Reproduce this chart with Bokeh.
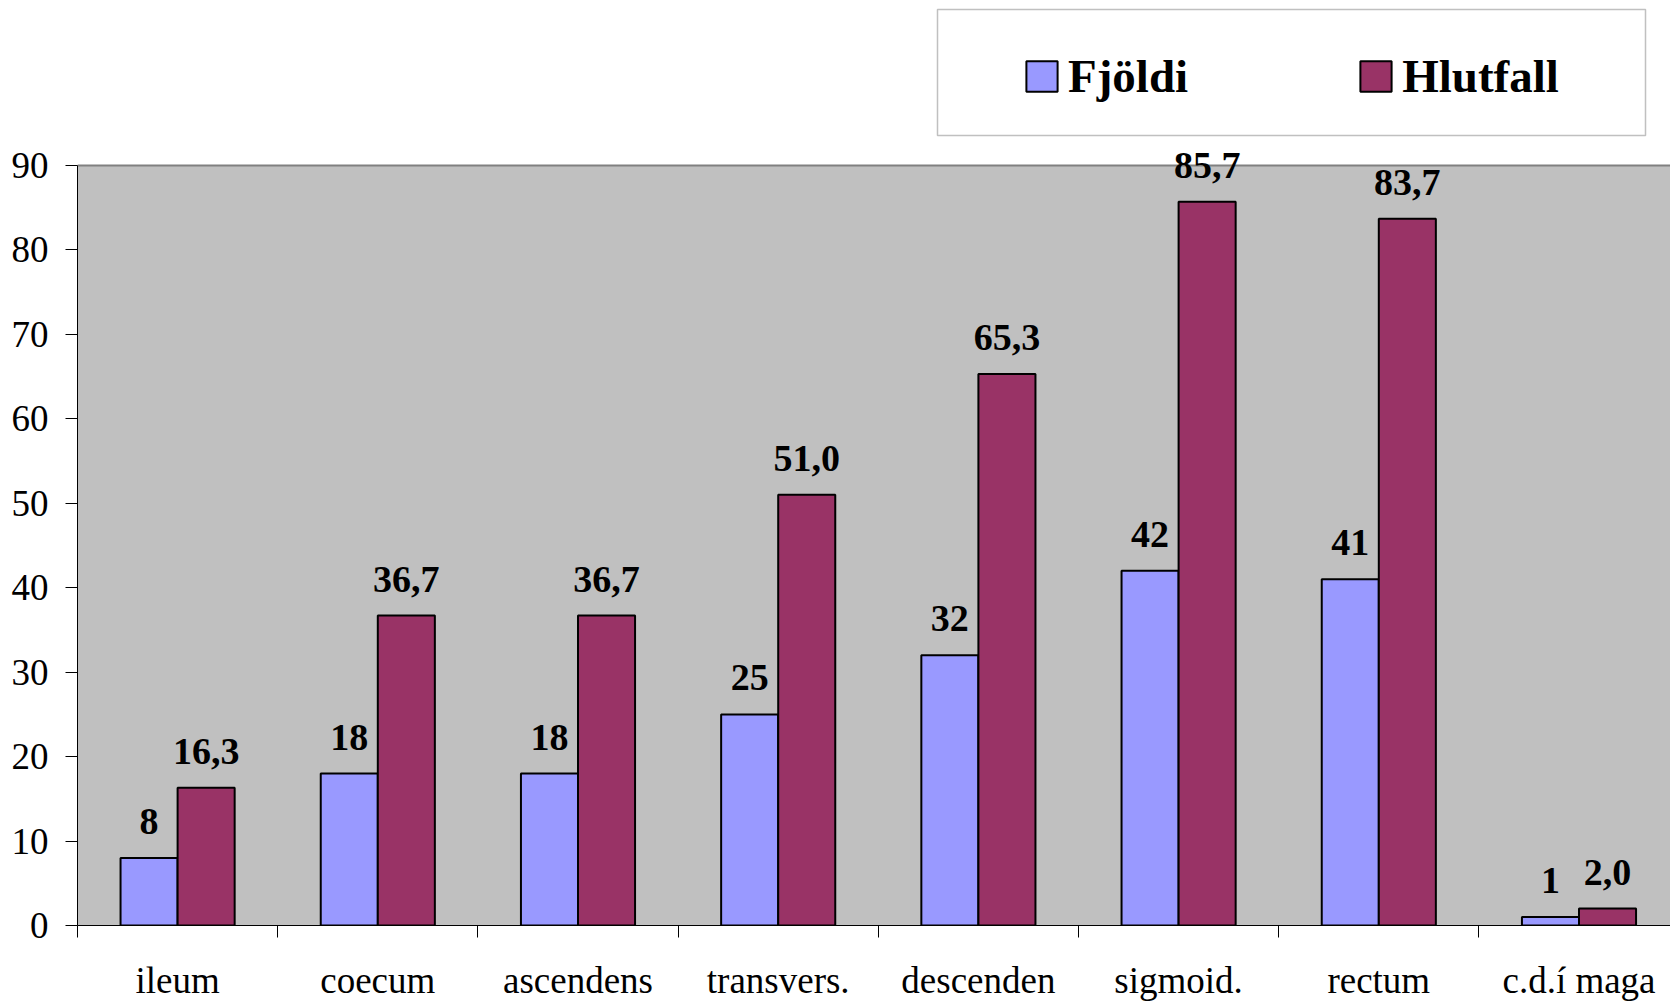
from bokeh.plotting import figure
from bokeh.models import (ColumnDataSource, FixedTicker, LabelSet, Legend, LegendItem,
                          BoxAnnotation, Range1d, Grid)
from bokeh.embed import file_html
from bokeh.resources import INLINE

categories = ["ileum", "coecum", "ascendens", "transvers.", "descenden",
              "sigmoid.", "rectum", "c.d.í maga"]
fjoldi = [8, 18, 18, 25, 32, 42, 41, 1]
hlutfall = [16.3, 36.7, 36.7, 51.0, 65.3, 85.7, 83.7, 2.0]
series_names = ["Fjöldi", "Hlutfall"]
y_ticks = [0, 10, 20, 30, 40, 50, 60, 70, 80, 90]

FONT = "Liberation Serif"
C1 = "#9999FF"
C2 = "#993366"

n = len(categories)
centers = [i + 0.5 for i in range(n)]
bw = 0.285
x1 = [c - bw / 2 for c in centers]
x2 = [c + bw / 2 for c in centers]

src1 = ColumnDataSource(dict(x=x1, top=fjoldi, text=[str(v) for v in fjoldi]))
src2 = ColumnDataSource(dict(x=x2, top=hlutfall,
                             text=[f"{v:.1f}".replace(".", ",") for v in hlutfall]))

FRAME_W = 1593
FRAME_H = 925
PX_PER_CAT = 200.2
PX_PER_UNIT = 760 / 90.0
y_top = y_ticks[-1] + 165 / PX_PER_UNIT

p = figure(frame_width=FRAME_W, frame_height=FRAME_H,
           x_range=Range1d(0, FRAME_W / PX_PER_CAT), y_range=Range1d(0, y_top),
           output_backend="svg", toolbar_location=None,
           min_border_left=77, min_border_top=0, min_border_right=0,
           min_border_bottom=76)
p.background_fill_color = "white"
p.border_fill_color = "white"
p.outline_line_color = None

# grey plot area (0..90)
p.add_layout(BoxAnnotation(bottom=y_ticks[0], top=y_ticks[-1], fill_color="#C0C0C0",
                           fill_alpha=1.0, line_color=None, level="underlay"))

r1 = p.vbar(x="x", top="top", width=bw, bottom=0, source=src1,
            fill_color=C1, line_color="black", line_width=2)
r2 = p.vbar(x="x", top="top", width=bw, bottom=0, source=src2,
            fill_color=C2, line_color="black", line_width=2)

# grid
p.xgrid.visible = False
p.ygrid.ticker = FixedTicker(ticks=y_ticks[1:-1])
p.ygrid.grid_line_color = "#333333"
p.ygrid.grid_line_width = 1
p.add_layout(Grid(dimension=1, ticker=FixedTicker(ticks=[y_ticks[-1]]),
                  grid_line_color="#808080", grid_line_width=2))

ya = p.yaxis[0]
ya.ticker = FixedTicker(ticks=y_ticks)
ya.bounds = (y_ticks[0], y_ticks[-1])
ya.major_tick_out = 12
ya.major_tick_in = 0
ya.minor_tick_out = 0
ya.minor_tick_in = 0
ya.major_label_standoff = 17
ya.major_label_text_font = FONT
ya.major_label_text_font_size = "37px"
ya.major_label_text_color = "black"
ya.axis_line_color = "black"
ya.major_tick_line_color = "black"

xa = p.xaxis[0]
xa.ticker = FixedTicker(ticks=centers, minor_ticks=list(range(0, n + 1)))
xa.major_label_overrides = {c: name for c, name in zip(centers, categories)}
xa.major_tick_out = 0
xa.major_tick_in = 0
xa.minor_tick_out = 12
xa.minor_tick_in = 0
xa.minor_tick_line_color = "black"
xa.major_label_standoff = 22
xa.major_label_text_font = FONT
xa.major_label_text_font_size = "37px"
xa.major_label_text_color = "black"
xa.axis_line_color = "black"

# value labels
for src in (src1, src2):
    p.add_layout(LabelSet(x="x", y="top", text="text", source=src,
                          text_align="center", text_baseline="alphabetic",
                          y_offset=24, text_font=FONT, text_font_style="bold",
                          text_font_size="38px", text_color="black"))

# legend box
p.add_layout(BoxAnnotation(left=937, right=1645, top=9, bottom=135,
                           left_units="canvas", right_units="canvas",
                           top_units="canvas", bottom_units="canvas",
                           fill_color="white", fill_alpha=1.0,
                           line_color="#303030", line_width=1.5))

legend = Legend(items=[LegendItem(label=series_names[0], renderers=[r1]),
                       LegendItem(label=series_names[1], renderers=[r2])],
                location=(945, 822), orientation="horizontal",
                glyph_width=39, glyph_height=38, label_standoff=7,
                spacing=168, padding=0, margin=0,
                border_line_color=None, background_fill_alpha=0,
                label_text_font=FONT, label_text_font_style="bold",
                label_text_font_size="47px", label_text_color="black")
p.add_layout(legend, "center")

open("out.html", "w").write(file_html(p, INLINE))
